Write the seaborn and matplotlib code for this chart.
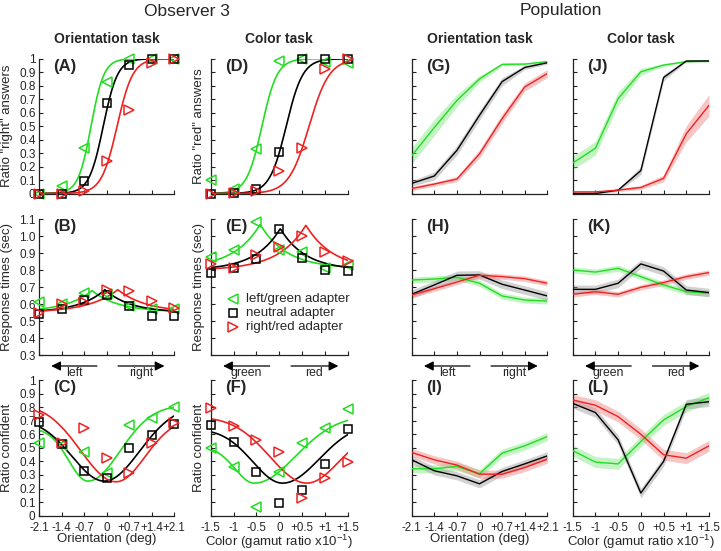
import numpy as np
import matplotlib
matplotlib.use("Agg")
import matplotlib.pyplot as plt
import seaborn as sns

sns.set_style("ticks")
plt.rcParams['font.family'] = ['Liberation Sans', 'DejaVu Sans']
plt.rcParams['mathtext.fontset'] = 'custom'
plt.rcParams['mathtext.rm'] = 'Liberation Sans'
plt.rcParams['mathtext.default'] = 'regular'
plt.rcParams['xtick.direction'] = 'in'
plt.rcParams['ytick.direction'] = 'in'

# x positions / tick labels
ori_x = [-2.1, -1.4, -0.7, 0, 0.7, 1.4, 2.1]
col_x = [-1.5, -1, -0.5, 0, 0.5, 1, 1.5]
ori_labels = ["-2.1", "-1.4", "-0.7", "0", "+0.7", "+1.4", "+2.1"]
col_labels = ["-1.5", "-1", "-0.5", "0", "+0.5", "+1", "+1.5"]

# ---- Observer 3 data points (green / neutral / red adapter) ----
A_green = [0.0, 0.054, 0.34, 0.83, 1.0, 1.0, 1.0]
A_black = [0.0, 0.0, 0.09, 0.67, 0.95, 1.0, 1.0]
A_red = [0.0, 0.0, 0.02, 0.24, 0.62, 0.97, 1.0]
D_green = [0.097, 0.03, 0.33, 0.98, 1.0, 0.975, 0.97]
D_black = [0.0, 0.005, 0.035, 0.31, 1.0, 1.0, 1.0]
D_red = [0.0, 0.005, 0.02, 0.165, 0.34, 0.92, 1.0]
B_green = [0.614, 0.60, 0.667, 0.66, 0.59, 0.57, 0.57]
B_black = [0.54, 0.57, 0.624, 0.654, 0.59, 0.53, 0.53]
B_red = [0.545, 0.60, 0.614, 0.683, 0.68, 0.62, 0.575]
E_green = [0.875, 0.92, 1.085, 0.92, 0.91, 0.81, 0.83]
E_black = [0.785, 0.811, 0.864, 1.041, 0.874, 0.80, 0.795]
E_red = [0.835, 0.812, 0.89, 0.935, 1.0, 0.905, 0.852]
C_green = [0.538, 0.52, 0.467, 0.317, 0.668, 0.717, 0.803]
C_black = [0.693, 0.528, 0.332, 0.28, 0.50, 0.595, 0.676]
C_red = [0.742, 0.538, 0.643, 0.428, 0.317, 0.533, 0.68]
F_green = [0.50, 0.36, 0.066, 0.324, 0.538, 0.644, 0.784]
F_black = [0.668, 0.545, 0.324, 0.096, 0.19, 0.378, 0.636]
F_red = [0.79, 0.66, 0.558, 0.472, 0.133, 0.275, 0.393]

# fitted curves: logistic (mu, slope)
A_fit = [(-0.48, 5.0), (-0.10, 4.5), (0.33, 4.1)]
D_fit = [(-0.38, 6.0), (0.15, 5.5), (0.65, 4.5)]
# response time fits: (base, amplitude, peak, width)
B_fit = [(0.555, 0.125, -0.45, 0.8), (0.55, 0.135, -0.05, 0.8), (0.55, 0.135, 0.35, 0.9)]
E_fit = [(0.81, 0.26, -0.42, 0.58), (0.80, 0.245, 0.02, 0.55), (0.80, 0.265, 0.58, 0.6)]
# confidence fits: (centre, min, amp left, width left, amp right, width right)
C_fit = [(-0.58, 0.255, 0.39, 0.6, 0.56, 1.0), (-0.07, 0.255, 0.46, 1.0, 0.56, 1.1),
         (0.30, 0.25, 0.58, 1.1, 0.47, 0.9)]
F_fit = [(-0.55, 0.24, 0.27, 0.42, 0.50, 0.9), (0.07, 0.24, 0.40, 0.65, 0.45, 0.8),
         (0.60, 0.24, 0.49, 0.8, 0.40, 0.7)]

# ---- Population means and band half widths ----
G_green = [0.28, 0.49, 0.69, 0.85, 0.958, 0.96, 0.978]
G_green_err = [0.06, 0.06, 0.045, 0.025, 0.01, 0.01, 0.008]
G_black = [0.075, 0.13, 0.32, 0.58, 0.83, 0.935, 0.97]
G_black_err = [0.02, 0.03, 0.035, 0.035, 0.03, 0.015, 0.01]
G_red = [0.037, 0.07, 0.107, 0.294, 0.555, 0.79, 0.89]
G_red_err = [0.015, 0.015, 0.02, 0.03, 0.035, 0.03, 0.03]
J_green = [0.226, 0.336, 0.704, 0.903, 0.953, 0.978, 0.983]
J_green_err = [0.05, 0.05, 0.05, 0.025, 0.01, 0.008, 0.005]
J_black = [0.0, 0.0, 0.025, 0.17, 0.86, 0.983, 0.983]
J_black_err = [0.004, 0.004, 0.01, 0.03, 0.025, 0.005, 0.005]
J_red = [0.012, 0.012, 0.025, 0.045, 0.112, 0.443, 0.654]
J_red_err = [0.005, 0.005, 0.01, 0.015, 0.025, 0.06, 0.08]
H_green = [0.742, 0.748, 0.758, 0.723, 0.648, 0.624, 0.618]
H_black = [0.658, 0.713, 0.77, 0.772, 0.717, 0.683, 0.648]
H_red = [0.654, 0.691, 0.73, 0.77, 0.762, 0.75, 0.723]
K_green = [0.801, 0.789, 0.811, 0.762, 0.713, 0.673, 0.664]
K_black = [0.687, 0.687, 0.723, 0.837, 0.795, 0.683, 0.668]
K_red = [0.658, 0.673, 0.658, 0.699, 0.727, 0.762, 0.786]
I_green = [0.346, 0.346, 0.363, 0.309, 0.461, 0.515, 0.583]
I_black = [0.412, 0.331, 0.294, 0.235, 0.326, 0.382, 0.441]
I_red = [0.466, 0.412, 0.373, 0.306, 0.306, 0.355, 0.417]
L_green = [0.48, 0.395, 0.382, 0.547, 0.706, 0.804, 0.87]
L_black = [0.828, 0.76, 0.559, 0.167, 0.40, 0.821, 0.84]
L_red = [0.853, 0.814, 0.73, 0.60, 0.449, 0.424, 0.515]
rt_err = [0.018, 0.025, 0.016]
conf_err = [0.03, 0.03, 0.03]
L_err = [0.04, 0.035, 0.04]

GREEN = '#22dd22'
RED = '#ee2222'
BLACK = 'black'
colors = [GREEN, BLACK, RED]
markers = ['<', 's', '>']
msizes = [7.5, 5.5, 7.5]

W, H = 721, 551
fig = plt.figure(figsize=(W / 100, H / 100), dpi=100)
col_left = [39, 210.7, 411.7, 572.7]
col_w = [135, 137.3, 135.6, 136.3]
row_top = [58.7, 219.3, 380]
row_h = [134.8, 135.7, 135.7]


def make_ax(r, c):
    return fig.add_axes([col_left[c] / W, 1 - (row_top[r] + row_h[r]) / H,
                         col_w[c] / W, row_h[r] / H])


def style(ax, r, c):
    xs = ori_x if c in (0, 2) else col_x
    ax.set_xlim(xs[0], xs[-1])
    ax.set_xticks(xs)
    if r == 1:
        yt = np.round(np.arange(0.3, 1.101, 0.1), 1)
        ylab = ["%.1f" % v for v in yt]
        ax.set_ylim(0.3, 1.1)
    else:
        yt = np.round(np.arange(0, 1.001, 0.1), 1)
        ylab = ["0"] + ["%.1f" % v for v in yt[1:-1]] + ["1"]
        ax.set_ylim(0, 1)
    ax.set_yticks(yt)
    if c == 0:
        ax.set_yticklabels(ylab, fontsize=8.5)
    else:
        ax.set_yticklabels([])
    if r == 2:
        ax.set_xticklabels(ori_labels if c in (0, 2) else col_labels, fontsize=8.3)
        ax.set_xlabel("Orientation (deg)" if c in (0, 2) else "Color (gamut ratio x10$^{-1}$)",
                      fontsize=9.5)
        ax.xaxis.set_label_coords(0.5, -0.128)
    else:
        ax.set_xticklabels([])
    ax.tick_params(length=3.2, width=0.8, pad=2.5, color='#222222')
    ax.tick_params(axis='x', pad=4.5)
    for s in ['top', 'right']:
        ax.spines[s].set_visible(False)
    for s in ['left', 'bottom']:
        ax.spines[s].set_linewidth(0.9)
        ax.spines[s].set_color('#222222')


def add_markers(ax, xs, series):
    for vals, col, mk, ms in zip(series, colors, markers, msizes):
        ax.plot(xs, vals, linestyle='none', marker=mk, ms=ms, mfc='none',
                mec=col, mew=1.1, clip_on=False, zorder=4)


letters = [['(A)', '(D)', '(G)', '(J)'],
           ['(B)', '(E)', '(H)', '(K)'],
           ['(C)', '(F)', '(I)', '(L)']]
axes = [[make_ax(r, c) for c in range(4)] for r in range(3)]
for r in range(3):
    for c in range(4):
        style(axes[r][c], r, c)
        axes[r][c].text(0.105, 1.0, letters[r][c], transform=axes[r][c].transAxes,
                        fontsize=12, fontweight='bold', va='top', ha='left')

xo = np.linspace(-2.1, 2.1, 300)
xc = np.linspace(-1.5, 1.5, 300)

# psychometric panels
for ax, xs, pts, fits, grid in [(axes[0][0], ori_x, [A_green, A_black, A_red], A_fit, xo),
                                (axes[0][1], col_x, [D_green, D_black, D_red], D_fit, xc)]:
    for (mu, k), col in zip(fits, colors):
        sns.lineplot(x=grid, y=1 / (1 + np.exp(-k * (grid - mu))), color=col, lw=1.2, ax=ax)
    add_markers(ax, xs, pts)

# response time panels
for ax, xs, pts, fits, grid in [(axes[1][0], ori_x, [B_green, B_black, B_red], B_fit, xo),
                                (axes[1][1], col_x, [E_green, E_black, E_red], E_fit, xc)]:
    for (b, a, mu, s), col in zip(fits, colors):
        sns.lineplot(x=grid, y=b + a * np.exp(-np.abs(grid - mu) / s), color=col, lw=1.2, ax=ax)
    add_markers(ax, xs, pts)

# confidence panels
for ax, xs, pts, fits, grid in [(axes[2][0], ori_x, [C_green, C_black, C_red], C_fit, xo),
                                (axes[2][1], col_x, [F_green, F_black, F_red], F_fit, xc)]:
    for (mu, lo, al, sl, ar, sr), col in zip(fits, colors):
        amp = np.where(grid < mu, al, ar)
        sig = np.where(grid < mu, sl, sr)
        yv = lo + amp * (1 - np.exp(-(grid - mu) ** 2 / (2 * sig ** 2)))
        sns.lineplot(x=grid, y=yv, color=col, lw=1.2, ax=ax)
    add_markers(ax, xs, pts)

# population panels
band_cols = ['#7ee87e', '#999999', '#f08080']
pop = [
    (axes[0][2], ori_x, [G_green, G_black, G_red], [G_green_err, G_black_err, G_red_err]),
    (axes[0][3], col_x, [J_green, J_black, J_red], [J_green_err, J_black_err, J_red_err]),
    (axes[1][2], ori_x, [H_green, H_black, H_red], rt_err),
    (axes[1][3], col_x, [K_green, K_black, K_red], rt_err),
    (axes[2][2], ori_x, [I_green, I_black, I_red], conf_err),
    (axes[2][3], col_x, [L_green, L_black, L_red], L_err),
]
for ax, xs, series, errs in pop:
    for vals, err, col, bc in zip(series, errs, colors, band_cols):
        v = np.array(vals)
        e = np.array(err) if np.ndim(err) else np.full(len(v), err)
        ax.fill_between(xs, v - e, v + e, color=bc, alpha=0.45, lw=0, zorder=1)
    for vals, col in zip(series, colors):
        sns.lineplot(x=xs, y=vals, color=col, lw=1.0, ax=ax, zorder=3)

# y labels
ylabels = ['Ratio "right" answers', 'Response times (sec)', 'Ratio confident']
ylabels_col = ['Ratio "red" answers', 'Response times (sec)', 'Ratio confident']
for r in range(3):
    axes[r][0].set_ylabel(ylabels[r], fontsize=9.5)
    axes[r][0].yaxis.set_label_coords(-0.19, 0.5)
    axes[r][1].set_ylabel(ylabels_col[r], fontsize=9.5)
    axes[r][1].yaxis.set_label_coords(-0.04, 0.5)

# legend in (E)
leg_names = ['left/green adapter', 'neutral adapter', 'right/red adapter']
axE = axes[1][1]
for i, (nm, col, mk, ms) in enumerate(zip(leg_names, colors, markers, msizes)):
    yy = 0.41 - i * 0.103
    axE.plot([0.162], [yy], marker=mk, ms=ms, mfc='none', mec=col, mew=1.1,
             transform=axE.transAxes, linestyle='none')
    axE.text(0.255, yy, nm, transform=axE.transAxes, fontsize=9.5, va='center', ha='left')

# direction arrows under the middle row
for c in range(4):
    ax = axes[1][c]
    lw_txt = ('left', 'right') if c in (0, 2) else ('green', 'red')
    ay = -0.081
    ax.annotate('', xy=(0.07, ay), xytext=(0.45, ay), xycoords='axes fraction',
                arrowprops=dict(arrowstyle='-|>', color='black', lw=0.9, mutation_scale=14))
    ax.annotate('', xy=(0.95, ay), xytext=(0.565, ay), xycoords='axes fraction',
                arrowprops=dict(arrowstyle='-|>', color='black', lw=0.9, mutation_scale=14))
    ax.text(0.26, -0.13, lw_txt[0], transform=ax.transAxes, fontsize=8.8, ha='center', va='center')
    ax.text(0.755, -0.13, lw_txt[1], transform=ax.transAxes, fontsize=8.8, ha='center', va='center')

# column titles
for c, t in enumerate(['Orientation task', 'Color task', 'Orientation task', 'Color task']):
    axes[0][c].text(0.5, 1.146, t, transform=axes[0][c].transAxes, fontsize=10,
                    fontweight='bold', ha='center', va='center')
fig.text(186.5 / W, 1 - 11 / H, 'Observer 3', fontsize=12.5, ha='center', va='center')
fig.text(561 / W, 1 - 10.5 / H, 'Population', fontsize=12.5, ha='center', va='center')

fig.savefig('out.png', dpi=100)
